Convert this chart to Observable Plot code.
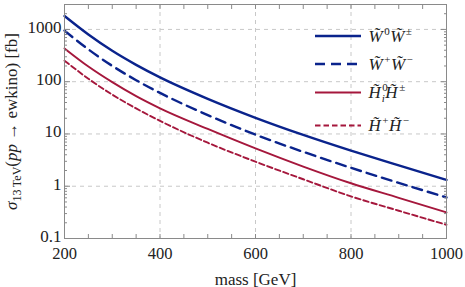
<!DOCTYPE html>
<html><head><meta charset="utf-8">
<script src="https://cdn.jsdelivr.net/npm/d3@7"></script>
<script src="https://cdn.jsdelivr.net/npm/@observablehq/plot@0.6"></script>
<style>
body{margin:0;background:#fff}
#chart svg{font-family:"Liberation Serif","DejaVu Serif",serif;background:#fff}
</style>
</head><body><div id="chart"></div>
<script>
// ---- data ----
const mass = [200, 250, 300, 350, 400, 500, 600, 700, 800, 900, 1000];
const winoNC = [1807, 800, 390, 210, 121, 47, 20.4, 9.6, 4.8, 2.5, 1.32];
const winoCC = [950, 415, 201, 107, 61, 23, 9.7, 4.55, 2.25, 1.16, 0.61];
const higgsNC = [433, 195, 98, 53, 31, 12.5, 5.3, 2.38, 1.14, 0.6, 0.315];
const higgsCC = [253, 114, 56.6, 30.8, 17.8, 6.8, 2.95, 1.36, 0.64, 0.34, 0.183];

const seriesKeys = ["winoNC", "winoCC", "higgsNC", "higgsCC"];
const seriesValues = [winoNC, winoCC, higgsNC, higgsCC];
const seriesColors = ["#0a238c", "#0a238c", "#a5173c", "#a5173c"];
const seriesDash = [null, "10,6", null, "5.5,3"];
const seriesWidth = [2.4, 2.4, 1.9, 1.9];

const xTicks = [200, 400, 600, 800, 1000];
const xMinorTicks = [200, 250, 300, 350, 400, 450, 500, 550, 600, 650, 700, 750, 800, 850, 900, 950, 1000];
const xGrid = [400, 600, 800];
const yTicks = [0.1, 1, 10, 100, 1000];
const yTickLabels = ["0.1", "1", "10", "100", "1000"];
const yGrid = [1, 10, 100, 1000];
const yMinorTicks = [0.2,0.3,0.4,0.5,0.6,0.7,0.8,0.9, 2,3,4,5,6,7,8,9, 20,30,40,50,60,70,80,90, 200,300,400,500,600,700,800,900, 2000,3000];

const rows = [];
seriesKeys.forEach((k, i) => mass.forEach((m, j) => rows.push({series: k, mass: m, xs: seriesValues[i][j]})));

const frameColor = "#8a8a8a";
const gridStyle = {stroke: "#c8c8c8", strokeOpacity: 1, strokeDasharray: "4,4", strokeWidth: 1};

const lineMarks = seriesKeys.map((k, i) => Plot.line(rows.filter(d => d.series === k), {
  x: "mass", y: "xs", stroke: seriesColors[i], strokeWidth: seriesWidth[i],
  strokeDasharray: seriesDash[i], curve: "monotone-x"
}));

const chart = Plot.plot({
  width: 465, height: 287,
  marginLeft: 64, marginRight: 19, marginTop: 4, marginBottom: 49,
  style: {fontFamily: "Liberation Serif, serif", fontSize: "16px", color: "#222", background: "#fff"},
  x: {domain: [200, 1000]},
  y: {type: "log", domain: [0.1, 3000]},
  marks: [
    Plot.gridX(xGrid, gridStyle),
    Plot.gridY(yGrid, gridStyle),
    ...lineMarks,
    Plot.frame({stroke: frameColor}),
    // inward tick marks
    Plot.axisX(xMinorTicks, {anchor: "bottom", tickSize: 4, dy: -4, text: null, label: null, stroke: frameColor}),
    Plot.axisX(xMinorTicks, {anchor: "top", tickSize: 4, dy: 4, text: null, label: null, stroke: frameColor}),
    Plot.axisY(yTicks, {anchor: "left", tickSize: 6, dx: 6, text: null, label: null, stroke: frameColor}),
    Plot.axisY(yMinorTicks, {anchor: "left", tickSize: 3, dx: 3, text: null, label: null, stroke: frameColor}),
    Plot.axisY(yTicks, {anchor: "right", tickSize: 6, dx: -6, text: null, label: null, stroke: frameColor}),
    Plot.axisY(yMinorTicks, {anchor: "right", tickSize: 3, dx: -3, text: null, label: null, stroke: frameColor}),
    // tick labels
    Plot.axisX(xTicks, {anchor: "bottom", tickSize: 0, tickPadding: 9, label: null, fontSize: 16.5,
      tickFormat: d => String(d)}),
    Plot.axisY(yTicks, {anchor: "left", tickSize: 0, tickPadding: 3, dy: -2, label: null, fontSize: 17,
      tickFormat: d => yTickLabels[yTicks.indexOf(d)]}),
    // axis titles
    Plot.text(["mass [GeV]"], {frameAnchor: "bottom", dy: 46, fontSize: 17, text: d => d}),
    Plot.text(["YLABEL"], {frameAnchor: "left", dx: -53, rotate: -90, textAnchor: "middle", fontSize: 17, text: d => d})
  ]
});
document.getElementById("chart").appendChild(chart);

const svg = d3.select(chart);
// rich y label
svg.selectAll("text").filter(function(){ return this.textContent === "YLABEL"; }).each(function(){
  const t = d3.select(this);
  t.text(null);
  t.append("tspan").attr("font-style", "italic").text("σ");
  t.append("tspan").attr("font-size", 12).attr("dy", 4).text("13\u2009TeV");
  t.append("tspan").attr("dy", -4).text("(");
  t.append("tspan").attr("font-style", "italic").text("pp");
  t.append("tspan").text(" → ewkino) [fb]");
});

// legend
const legendLabels = [
  [["W\u0303",""],["0","sup"],["W\u0303",""],["±","sup"]],
  [["W\u0303",""],["+","sup"],["W\u0303",""],["−","sup"]],
  [["H\u0303",""],["0","sup"],["i","subback"],["H\u0303",""],["±","sup"]],
  [["H\u0303",""],["+","sup"],["H\u0303",""],["−","sup"]]
];
const legendY = [36, 64, 92.5, 125.5];
const lg = svg.append("g").attr("class", "legend");
seriesKeys.forEach((k, i) => {
  lg.append("line").attr("x1", 315).attr("x2", 361).attr("y1", legendY[i]).attr("y2", legendY[i])
    .attr("stroke", seriesColors[i]).attr("stroke-width", seriesWidth[i])
    .attr("stroke-dasharray", seriesDash[i]);
  const t = lg.append("text").attr("x", 368).attr("y", legendY[i] + 5.5)
    .attr("text-anchor", "start")
    .attr("font-size", 17).attr("font-style", "italic").attr("fill", "#222");
  let shift = 0;
  legendLabels[i].forEach(([s, kind]) => {
    const sp = t.append("tspan").text(s);
    if (kind === "sup") { sp.attr("font-size", 11).attr("font-style", "normal").attr("dx", 1.5).attr("dy", -7 - shift); shift = -7; }
    else if (kind === "subback") { sp.attr("font-size", 11).attr("dx", -6).attr("dy", 11); shift = 4; }
    else { sp.attr("dy", -shift).attr("dx", 0.5); shift = 0; }
  });
});
</script>
</body></html>
